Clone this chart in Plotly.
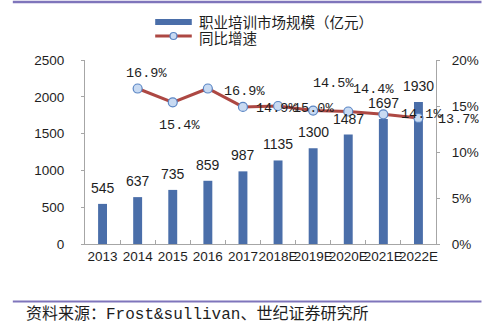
import plotly.graph_objects as go

# Vocational training market size (100m CNY) and year-on-year growth
years = ["2013", "2014", "2015", "2016", "2017", "2018E", "2019E", "2020E", "2021E", "2022E"]
market_size = [545, 637, 735, 859, 987, 1135, 1300, 1487, 1697, 1930]
yoy_growth = [None, 16.9, 15.4, 16.9, 14.9, 15.0, 14.5, 14.4, 14.1, 13.7]
size_ticks = [0, 500, 1000, 1500, 2000, 2500]
growth_ticks = [0, 5, 10, 15, 20]

size_name = "职业培训市场规模（亿元）"
growth_name = "同比增速"
source_text = "资料来源：Frost&sullivan、世纪证券研究所"

# pixel nudges for the growth labels (x, y)
growth_label_nudge = [None, (9, 15), (7, -23), (37, -3), (34, -2), (35, -2),
                      (20, 27), (25, 22), (38, 0), (40, -2)]

W, H = 491, 326
ML, MR, MT, MB = 85, 51, 60, 82
PW, PH = W - ML - MR, H - MT - MB


def px(x):
    """figure pixel column -> paper x"""
    return (x - ML) / PW


def py(y):
    """figure pixel row -> paper y"""
    return (H - MB - y) / PH


BAR = "#4a6ea9"
LINE = "#ad4843"
MARK_FILL = "#c8daf2"
MARK_EDGE = "#5b86c4"
AXIS = "#a6a6a6"
PURPLE = "#7f75bb"
TXT = "#1e1e1e"
NUM_FONT = "Liberation Sans, Arial, sans-serif"
CJK_FONT = "Noto Sans CJK SC, sans-serif"
PCT_FONT = "Liberation Mono, Noto Sans CJK SC, monospace"

fig = go.Figure()
fig.add_trace(go.Bar(
    x=years, y=market_size, name=size_name, marker_color=BAR,
    marker_line_width=0,
))
fig.add_trace(go.Scatter(
    x=years, y=yoy_growth, name=growth_name, mode="lines+markers",
    line=dict(color=LINE, width=3),
    marker=dict(size=9, color=MARK_FILL, line=dict(color=MARK_EDGE, width=1.2)),
    yaxis="y2",
))

# annotations address categories by index ("2013" would read as a position)
annotations = []
for i, v in enumerate(market_size):
    annotations.append(dict(
        x=i, y=v, xref="x", yref="y", text=str(v), showarrow=False,
        yanchor="middle", xanchor="center", yshift=16,
        font=dict(family=NUM_FONT, size=14, color=TXT),
    ))
for i, (g, nudge) in enumerate(zip(yoy_growth, growth_label_nudge)):
    if g is None:
        continue
    annotations.append(dict(
        x=i, y=g, xref="x", yref="y2", text=f"{g:.1f}%", showarrow=False,
        yanchor="middle", xanchor="center", xshift=nudge[0], yshift=nudge[1],
        font=dict(family=PCT_FONT, size=13.5, color=TXT),
    ))

# legend block drawn by hand above the plot
annotations += [
    dict(x=px(198), y=py(21.5), xref="paper", yref="paper", text=size_name,
         showarrow=False, xanchor="left", yanchor="middle",
         font=dict(family=CJK_FONT, size=14.5, color=TXT)),
    dict(x=px(198), y=py(37), xref="paper", yref="paper", text=growth_name,
         showarrow=False, xanchor="left", yanchor="middle",
         font=dict(family=CJK_FONT, size=14.5, color=TXT)),
    dict(x=px(23), y=py(314), xref="paper", yref="paper", text=source_text,
         showarrow=False, xanchor="left", yanchor="middle",
         font=dict(family=PCT_FONT, size=16, color=TXT)),
]

shapes = [
    dict(type="line", xref="paper", yref="paper", x0=px(12), x1=px(486),
         y0=py(2), y1=py(2), line=dict(color=PURPLE, width=2.5)),
    dict(type="line", xref="paper", yref="paper", x0=px(12), x1=px(486),
         y0=py(301.5), y1=py(301.5), line=dict(color=PURPLE, width=2)),
    dict(type="rect", xref="paper", yref="paper", x0=px(156), x1=px(193),
         y0=py(25), y1=py(19), fillcolor=BAR, line=dict(width=0)),
    dict(type="line", xref="paper", yref="paper", x0=px(156), x1=px(193),
         y0=py(36), y1=py(36), line=dict(color=LINE, width=3)),
    dict(type="circle", xref="paper", yref="paper", x0=px(171), x1=px(178),
         y0=py(39.5), y1=py(32.5), fillcolor=MARK_FILL,
         line=dict(color=MARK_EDGE, width=1.2)),
]

tick_font = dict(family=NUM_FONT, size=13.5, color=TXT)

fig.update_layout(
    width=W, height=H,
    margin=dict(l=ML, r=MR, t=MT, b=MB),
    paper_bgcolor="white", plot_bgcolor="white",
    bargap=0.746,
    showlegend=False,
    xaxis=dict(
        type="category", range=[-0.5, len(years) - 0.5],
        showline=True, linecolor=AXIS, linewidth=1,
        ticks="inside", tickson="boundaries", ticklen=4, tickcolor=AXIS,
        showgrid=False, tickfont=tick_font, tickangle=0, dtick=1,
    ),
    yaxis=dict(
        range=[size_ticks[0], size_ticks[-1]], tickvals=size_ticks,
        showline=True, linecolor=AXIS, linewidth=1, ticks="outside",
        ticklen=3, tickcolor=AXIS, showgrid=False, zeroline=False,
        tickfont=tick_font, ticklabelstandoff=14,
    ),
    yaxis2=dict(
        range=[growth_ticks[0], growth_ticks[-1]], tickvals=growth_ticks,
        ticktext=[f"{t}%" for t in growth_ticks],
        overlaying="y", side="right",
        showline=True, linecolor=AXIS, linewidth=1, ticks="outside",
        ticklen=3, tickcolor=AXIS, showgrid=False, zeroline=False,
        tickfont=tick_font, ticklabelstandoff=9,
    ),
    annotations=annotations,
    shapes=shapes,
)

fig.write_html("out.html")
